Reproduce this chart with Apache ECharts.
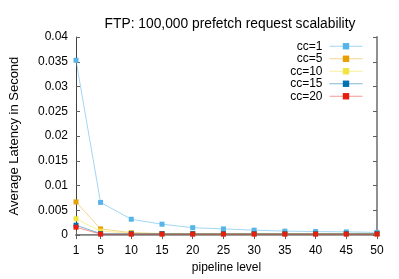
<!DOCTYPE html>
<html><head><meta charset="utf-8">
<script src="https://cdn.jsdelivr.net/npm/echarts@6/dist/echarts.min.js"></script>
<style>html,body{margin:0;padding:0;background:#fff}#c{width:399px;height:279px}</style>
</head><body><div id="c"></div>
<script>
const levels = [1, 5, 10, 15, 20, 25, 30, 35, 40, 45, 50];
const cc1  = [0.0353, 0.0066, 0.0032, 0.0022, 0.0015, 0.00125, 0.0010, 0.0008, 0.00072, 0.00065, 0.00055];
const cc5  = [0.0067, 0.00125, 0.0005, 0.0003, 0.0003, 0.0003, 0.0003, 0.0003, 0.0003, 0.0003, 0.0003];
const cc10 = [0.0033, 0.0008, 0.0004, 0.0003, 0.0003, 0.0003, 0.0003, 0.0003, 0.0003, 0.0003, 0.0003];
const cc15 = [0.0020, 0.0003, 0.0003, 0.0003, 0.0003, 0.0003, 0.0003, 0.0003, 0.0003, 0.0003, 0.0003];
const cc20 = [0.0016, 0.0002, 0.0002, 0.0002, 0.0002, 0.0002, 0.0002, 0.0002, 0.0002, 0.0002, 0.0002];
const names = ['cc=1', 'cc=5', 'cc=10', 'cc=15', 'cc=20'];
const colors = ['#56b4e9', '#e69f00', '#f0e442', '#0072b2', '#e51e10'];
const lineColors = ['rgba(86,180,233,0.55)', 'rgba(230,159,0,0.45)', 'rgba(240,228,66,0.55)', 'rgba(0,114,178,0.5)', 'rgba(229,30,16,0.45)'];
const allSeries = [cc1, cc5, cc10, cc15, cc20];

const font = 'Liberation Sans, Arial, sans-serif';
const chart = echarts.init(document.getElementById('c'), null, {renderer: 'canvas'});
chart.setOption({
  animation: false,
  title: {text: 'FTP: 100,000 prefetch request scalability', left: 225, textAlign: 'center', top: 12,
    textStyle: {fontFamily: font, fontSize: 13.8, fontWeight: 'normal', color: '#000'}},
  grid: {left: 74, right: 22, top: 37, bottom: 40},
  legend: {
    right: 36, top: 40, orient: 'vertical', align: 'right', itemWidth: 33, itemHeight: 8, itemGap: 0,
    padding: 0,
    textStyle: {fontFamily: font, fontSize: 12, color: '#000', lineHeight: 12.5, height: 12.5, padding: [0, 2, 0, 0]},
    data: names.map((n, i) => ({name: n, itemStyle: {color: colors[i]}, lineStyle: {color: lineColors[i], width: 1}}))
  },
  xAxis: [
    {type: 'value', min: 1, max: 50, position: 'bottom',
      name: 'pipeline level', nameLocation: 'middle', nameGap: 25,
      nameTextStyle: {fontFamily: font, fontSize: 12, color: '#000'},
      axisLine: {lineStyle: {color: '#808080', width: 2}},
      splitLine: {show: false},
      axisLabel: {customValues: levels, fontFamily: font, fontSize: 12, color: '#000', margin: 10},
      axisTick: {inside: true, length: 4, customValues: levels, lineStyle: {color: '#606060'}}},
    {type: 'value', min: 1, max: 50, position: 'top',
      axisLine: {lineStyle: {color: '#a0a0a0', width: 1}},
      splitLine: {show: false},
      axisLabel: {show: false},
      axisTick: {inside: true, length: 4, customValues: levels, lineStyle: {color: '#606060'}}}
  ],
  yAxis: [
    {type: 'value', min: 0, max: 0.04, interval: 0.005, position: 'left',
      name: 'Average Latency in Second', nameLocation: 'middle', nameGap: 55, nameRotate: 90,
      nameTextStyle: {fontFamily: font, fontSize: 13, color: '#000'},
      axisLine: {show: true, lineStyle: {color: '#404040', width: 1}},
      splitLine: {show: false},
      axisTick: {inside: true, length: 4, lineStyle: {color: '#606060'}},
      axisLabel: {fontFamily: font, fontSize: 12, color: '#000', margin: 8,
        formatter: v => String(+v.toFixed(3))}},
    {type: 'value', min: 0, max: 0.04, interval: 0.005, position: 'right',
      axisLine: {show: true, lineStyle: {color: '#909090', width: 2}},
      splitLine: {show: false},
      axisTick: {inside: true, length: 4, lineStyle: {color: '#606060'}},
      axisLabel: {show: false}}
  ],
  series: allSeries.map((vals, i) => ({
    name: names[i], type: 'line', xAxisIndex: 0, yAxisIndex: 0,
    data: levels.map((x, j) => [x, vals[j]]),
    symbol: 'rect', symbolSize: 5, showSymbol: true,
    itemStyle: {color: colors[i]},
    lineStyle: {color: lineColors[i], width: 1},
    z: 2 + i
  }))
});
</script></body></html>
